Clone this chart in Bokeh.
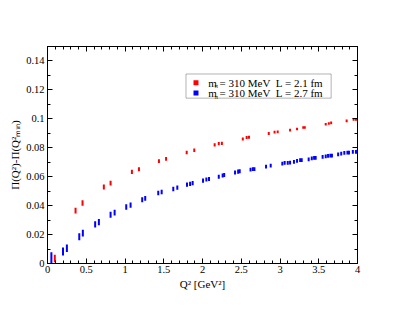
import numpy as np
from bokeh.plotting import figure
from bokeh.models import (LinearAxis, FixedTicker, NumeralTickFormatter, Range1d,
                          BoxAnnotation, Label, CustomJSTickFormatter)
from bokeh.embed import file_html
from bokeh.resources import INLINE

# ---- data ----
x_ticks = [0, 0.5, 1, 1.5, 2, 2.5, 3, 3.5, 4]
y_ticks = [0, 0.02, 0.04, 0.06, 0.08, 0.1, 0.12, 0.14]

red_label = "= 310 MeV\u00a0\u00a0L = 2.1 fm"
blue_label = "= 310 MeV\u00a0\u00a0L = 2.7 fm"

red_q2 = [0.094, 0.362, 0.452, 0.727, 0.814, 1.089, 1.18, 1.438, 1.53, 1.796,
          1.894, 2.157, 2.21, 2.25, 2.52, 2.57, 2.60, 2.855, 2.93, 2.97,
          3.13, 3.22, 3.30, 3.32, 3.59, 3.63, 3.66, 3.86, 3.95, 3.98]
red_pi = [0.0035, 0.0365, 0.0418, 0.0529, 0.0556, 0.0633, 0.0651, 0.0707, 0.0723, 0.0767,
          0.0783, 0.0820, 0.0828, 0.0830, 0.0861, 0.0871, 0.0873, 0.0899, 0.0908, 0.0910,
          0.0922, 0.0930, 0.0940, 0.0940, 0.0963, 0.0968, 0.0972, 0.0986, 0.0996, 0.0996]
red_err = [0.0026, 0.0020, 0.0019, 0.0017, 0.0016, 0.0015, 0.0014, 0.0013, 0.0013, 0.0012,
           0.0012, 0.0011, 0.0011, 0.0011, 0.0010, 0.0010, 0.0010, 0.0010, 0.0010, 0.0010,
           0.0009, 0.0009, 0.0009, 0.0009, 0.0009, 0.0009, 0.0009, 0.0009, 0.0009, 0.0009]

blue_q2 = [0.05, 0.20, 0.25, 0.41, 0.456, 0.615, 0.663, 0.814, 0.866, 1.016,
           1.072, 1.222, 1.261, 1.429, 1.473, 1.623, 1.675, 1.80, 1.84, 1.873,
           2.007, 2.05, 2.084, 2.21, 2.26, 2.28, 2.42, 2.46, 2.48, 2.62,
           2.65, 2.67, 2.82, 2.88, 3.03, 3.06, 3.10, 3.13, 3.18, 3.22,
           3.26, 3.28, 3.37, 3.41, 3.44, 3.46, 3.55, 3.59, 3.62, 3.65,
           3.67, 3.75, 3.79, 3.83, 3.87, 3.89, 3.94, 3.98, 4.0]
blue_pi = [0.0040, 0.0083, 0.0106, 0.0185, 0.0210, 0.0270, 0.0286, 0.0337, 0.0351, 0.0390,
           0.0404, 0.0441, 0.0450, 0.0487, 0.0494, 0.0515, 0.0525, 0.0545, 0.0550, 0.0556,
           0.0573, 0.0580, 0.0584, 0.0600, 0.0608, 0.0612, 0.0629, 0.0635, 0.0638, 0.0649,
           0.0653, 0.0653, 0.0670, 0.0677, 0.0691, 0.0695, 0.0695, 0.0698, 0.0702, 0.0709,
           0.0714, 0.0714, 0.0720, 0.0726, 0.0730, 0.0730, 0.0737, 0.0741, 0.0744, 0.0746,
           0.0746, 0.0755, 0.0760, 0.0764, 0.0767, 0.0767, 0.0771, 0.0771, 0.0774]
blue_err = [0.0038, 0.0027, 0.0026, 0.0024, 0.0023, 0.0022, 0.0021, 0.0020, 0.0020, 0.0019,
            0.0018, 0.0017, 0.0017, 0.0016, 0.0016, 0.0015, 0.0015, 0.0015, 0.0015, 0.0015,
            0.0014, 0.0014, 0.0014, 0.0014, 0.0014, 0.0014, 0.0014, 0.0014, 0.0014, 0.0013,
            0.0013, 0.0013, 0.0013, 0.0013, 0.0013, 0.0013, 0.0013, 0.0013, 0.0013, 0.0013,
            0.0013, 0.0013, 0.0013, 0.0013, 0.0013, 0.0013, 0.0013, 0.0013, 0.0013, 0.0013,
            0.0013, 0.0013, 0.0013, 0.0013, 0.0013, 0.0013, 0.0013, 0.0013, 0.0013]

FONT = "Liberation Serif"

p = figure(width=394, height=302, output_backend="svg", toolbar_location=None,
           x_range=Range1d(0, 4), y_range=Range1d(0, 0.15),
           min_border_left=47, min_border_right=37, min_border_top=46, min_border_bottom=39)
p.background_fill_color = "white"
p.border_fill_color = "white"
p.outline_line_color = "black"
p.xgrid.visible = False
p.ygrid.visible = False

x_minor = [round(v, 2) for v in np.arange(0, 4.0001, 0.1)]
y_minor = [round(v, 3) for v in np.arange(0, 0.15001, 0.01)]
xt = FixedTicker(ticks=x_ticks, minor_ticks=x_minor)
yt = FixedTicker(ticks=y_ticks, minor_ticks=y_minor)

def style(ax, ticker, fmt, labels=True):
    ax.ticker = ticker
    ax.formatter = NumeralTickFormatter(format=fmt) if labels else CustomJSTickFormatter(code="return ''")
    ax.axis_line_color = "black"
    ax.major_tick_line_color = "black"
    ax.minor_tick_line_color = "black"
    ax.major_tick_in = 5
    ax.major_tick_out = 0
    ax.minor_tick_in = 3
    ax.minor_tick_out = 0
    ax.major_label_text_font = FONT
    ax.major_label_text_color = "black"
    ax.major_label_text_font_size = "10.5px"
    ax.axis_label_text_font = FONT
    ax.axis_label_text_font_style = "normal"
    ax.axis_label_text_color = "black"
    ax.axis_label_text_font_size = "11px"

style(p.xaxis[0], xt, "0.[0]")
style(p.yaxis[0], yt, "0.[00]")
p.xaxis[0].major_label_standoff = 2
p.xaxis[0].axis_label_standoff = 2
p.yaxis[0].major_label_standoff = 3
p.yaxis[0].axis_label_standoff = 2
p.xaxis[0].axis_label = "Q² [GeV²]"
p.yaxis[0].axis_label = "Π(Q²)-Π(Q²ₘᵢₙ)"

top = LinearAxis()
style(top, xt, "0.[0]", labels=False)
p.add_layout(top, "above")
right = LinearAxis()
style(right, yt, "0.[00]", labels=False)
p.add_layout(right, "right")

# data as error bars
red_lo = [v - e for v, e in zip(red_pi, red_err)]
red_hi = [v + e for v, e in zip(red_pi, red_err)]
blue_lo = [v - e for v, e in zip(blue_pi, blue_err)]
blue_hi = [v + e for v, e in zip(blue_pi, blue_err)]
p.segment(x0=red_q2, y0=red_lo, x1=red_q2, y1=red_hi, line_color="#ff0000", line_width=2)
p.segment(x0=blue_q2, y0=blue_lo, x1=blue_q2, y1=blue_hi, line_color="#0000ff", line_width=2)

# manual legend
p.add_layout(BoxAnnotation(left=1.787, right=3.66, bottom=0.1143, top=0.131,
                           fill_color="white", fill_alpha=1, line_color="black", line_width=1))
sw_dx, sw_dy = 0.032, 0.0017
for yc, col in [(0.1250, "#ff0000"), (0.1178, "#0000ff")]:
    p.add_layout(BoxAnnotation(left=1.916 - sw_dx, right=1.916 + sw_dx,
                               bottom=yc - sw_dy, top=yc + sw_dy,
                               fill_color=col, fill_alpha=1, line_color=None))
for yc, txt in [(0.1250, red_label), (0.1178, blue_label)]:
    p.add_layout(Label(x=2.075, y=yc, text="m", text_font=FONT, text_font_size="11px",
                       text_baseline="middle", text_color="black"))
    p.add_layout(Label(x=2.155, y=yc - 0.0024, text="π", text_font=FONT, text_font_size="7px",
                       text_baseline="middle", text_color="black"))
    p.add_layout(Label(x=2.22, y=yc, text=txt, text_font=FONT, text_font_size="11px",
                       text_baseline="middle", text_color="black"))

open("out.html", "w").write(file_html(p, INLINE))
